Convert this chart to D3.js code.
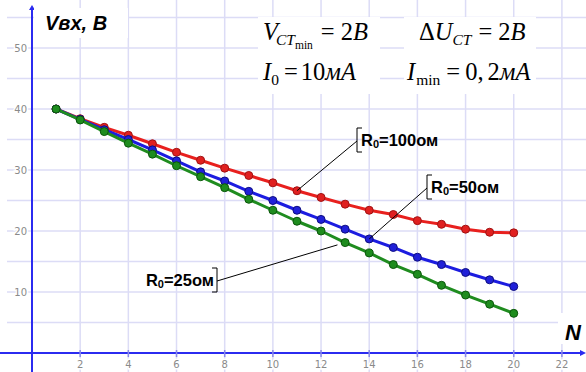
<!DOCTYPE html>
<html>
<head>
<meta charset="utf-8">
<script src="https://cdn.jsdelivr.net/npm/d3@7"></script>
<style>
  body { margin: 0; background: #fff; }
  svg { display: block; }
</style>
</head>
<body>
<svg width="586" height="372"></svg>
<script>
// N values and Vвх for the three R0 curves
var nValues = [1, 2, 3, 4, 5, 6, 7, 8, 9, 10, 11, 12, 13, 14, 15, 16, 17, 18, 19, 20];
var vR100 = [40.0, 38.4, 37.0, 35.7, 34.3, 32.9, 31.6, 30.3, 29.1, 27.9, 26.6, 25.5, 24.4, 23.4, 22.7, 21.7, 21.1, 20.3, 19.8, 19.7];
var vR50  = [40.0, 38.3, 36.6, 35.0, 33.3, 31.5, 29.7, 28.2, 26.5, 25.0, 23.4, 21.9, 20.3, 18.7, 17.3, 15.7, 14.5, 13.2, 12.0, 10.9];
var vR25  = [40.0, 38.2, 36.3, 34.4, 32.6, 30.7, 28.9, 27.1, 25.2, 23.4, 21.6, 20.0, 18.1, 16.4, 14.5, 12.9, 11.1, 9.5, 8.0, 6.5];

var xTicks = [2, 4, 6, 8, 10, 12, 14, 16, 18, 20, 22];
var yTicks = [10, 20, 30, 40, 50];
var yGrid = [5, 10, 15, 20, 25, 30, 35, 40, 45, 50, 55];

var series = [
  {name: "100", values: vR100, line: "#e8201e", fill: "#e02020", stroke: "#a01212", labelN: 11},
  {name: "50",  values: vR50,  line: "#1c1ce0", fill: "#2020d8", stroke: "#0e0e80", labelN: 14},
  {name: "25",  values: vR25,  line: "#1f8c1f", fill: "#1e8c1e", stroke: "#0b560b", labelN: 13}
];

var svg = d3.select("svg"),
  width = +svg.attr("width"),
  height = +svg.attr("height");

var x = d3.scaleLinear().domain([0, 23]).range([32, 586]);
var y = d3.scaleLinear().domain([0, 55]).range([353, 17.5]);

//###############################################
// grid
//###############################################
var gridColor = "#dcdcf6";

svg.append("g").selectAll("line")
  .data(xTicks)
  .enter().append("line")
    .attr("x1", d => x(d)).attr("x2", d => x(d))
    .attr("y1", 0).attr("y2", height)
    .attr("stroke", gridColor).attr("stroke-width", 1.5);

svg.append("g").selectAll("line")
  .data(yGrid)
  .enter().append("line")
    .attr("x1", 7).attr("x2", width)
    .attr("y1", d => y(d)).attr("y2", d => y(d))
    .attr("stroke", gridColor).attr("stroke-width", 1.5);

//###############################################
// axes
//###############################################
var axisColor = "#2b2bf0";

svg.append("line")
  .attr("x1", 0).attr("x2", width - 3)
  .attr("y1", y(0)).attr("y2", y(0))
  .attr("stroke", axisColor).attr("stroke-width", 2);
svg.append("path")
  .attr("d", "M" + width + "," + y(0) + " l-6,-3 l0,6 z")
  .attr("fill", axisColor);

svg.append("line")
  .attr("x1", x(0)).attr("x2", x(0))
  .attr("y1", 9).attr("y2", height)
  .attr("stroke", axisColor).attr("stroke-width", 2);
svg.append("path")
  .attr("d", "M" + x(0) + ",5 l-3,5 l6,0 z")
  .attr("fill", axisColor);

// tick marks on x axis
svg.append("g").selectAll("line")
  .data(xTicks)
  .enter().append("line")
    .attr("x1", d => x(d)).attr("x2", d => x(d))
    .attr("y1", y(0) - 3).attr("y2", y(0) + 4)
    .attr("stroke", "#8a8ae8").attr("stroke-width", 1.5);

svg.append("g").selectAll("text")
  .data(xTicks)
  .enter().append("text")
    .attr("x", d => x(d)).attr("y", 368)
    .attr("text-anchor", "middle")
    .attr("font-family", "DejaVu Sans, sans-serif")
    .attr("font-size", 10)
    .attr("fill", "#8a8a8a")
    .attr("stroke", "#fff").attr("stroke-width", 3).attr("paint-order", "stroke")
    .text(d => d);

svg.append("g").selectAll("text")
  .data(yTicks)
  .enter().append("text")
    .attr("x", 27).attr("y", d => y(d) + 3.5)
    .attr("text-anchor", "end")
    .attr("font-family", "DejaVu Sans, sans-serif")
    .attr("font-size", 10)
    .attr("fill", "#8a8a8a")
    .attr("stroke", "#fff").attr("stroke-width", 3).attr("paint-order", "stroke")
    .text(d => d);

//###############################################
// curves
//###############################################
var line = d3.line()
  .x((d, i) => x(nValues[i]))
  .y(d => y(d));

series.forEach(function(s) {
  svg.append("path")
    .datum(s.values)
    .attr("d", line)
    .attr("fill", "none")
    .attr("stroke", s.line)
    .attr("stroke-width", 3)
    .attr("stroke-linejoin", "round");

  svg.append("g").selectAll("circle")
    .data(s.values)
    .enter().append("circle")
      .attr("cx", (d, i) => x(nValues[i]))
      .attr("cy", d => y(d))
      .attr("r", 4)
      .attr("fill", s.fill)
      .attr("stroke", s.stroke)
      .attr("stroke-width", 1);
});

//###############################################
// callouts
//###############################################
function callout(s, bx, top, bottom, side, shorten) {
  var i = nValues.indexOf(s.labelN);
  var mid = (top + bottom) / 2 + 1;
  var px = x(nValues[i]), py = y(s.values[i]);
  var k = 1 - (shorten || 0);
  svg.append("line")
    .attr("x1", bx).attr("y1", mid)
    .attr("x2", bx + (px - bx) * k).attr("y2", mid + (py - mid) * k)
    .attr("stroke", "#000").attr("stroke-width", 1);
  var d = side === "left"
    ? "M" + (bx + 5) + "," + top + " H" + bx + " V" + bottom + " H" + (bx + 5)
    : "M" + (bx - 5) + "," + top + " H" + bx + " V" + bottom + " H" + (bx - 5);
  svg.append("path").attr("d", d)
    .attr("fill", "none").attr("stroke", "#000").attr("stroke-width", 1);

  var t = svg.append("text")
    .attr("y", bottom - 6)
    .attr("font-family", "Liberation Sans, Arial, sans-serif")
    .attr("font-weight", "bold")
    .attr("font-size", 16.5)
    .attr("fill", "#000");
  if (side === "left") t.attr("x", bx + 4);
  else t.attr("x", bx - 3).attr("text-anchor", "end");
  t.append("tspan").text("R");
  t.append("tspan").attr("font-size", 11).attr("dy", 2).text("0");
  t.append("tspan").attr("dy", -2).text("=" + s.name + "ом");
}

callout(series[0], 357, 128, 152, "left", 0);
callout(series[1], 427, 175, 199, "left", 0);
callout(series[2], 217, 268, 292, "right", 0.06);

//###############################################
// labels and formulas
//###############################################
svg.append("rect").attr("x", 34).attr("y", 8).attr("width", 94).attr("height", 30).attr("fill", "#fff");
svg.append("text")
  .attr("x", 45).attr("y", 30)
  .attr("font-family", "Liberation Sans, Arial, sans-serif")
  .attr("font-weight", "bold").attr("font-style", "italic")
  .attr("font-size", 20)
  .text("Vвх, В");

svg.append("rect").attr("x", 558).attr("y", 313).attr("width", 28).attr("height", 31).attr("fill", "#fff");
svg.append("text")
  .attr("x", 565).attr("y", 340)
  .attr("font-family", "Liberation Sans, Arial, sans-serif")
  .attr("font-weight", "bold").attr("font-style", "italic")
  .attr("font-size", 22)
  .text("N");

svg.append("rect").attr("x", 258).attr("y", 17).attr("width", 122).attr("height", 77).attr("fill", "#fff");
svg.append("rect").attr("x", 404).attr("y", 17).attr("width", 132).attr("height", 77).attr("fill", "#fff");

function formula(x0, y0, parts) {
  var t = svg.append("text")
    .attr("x", x0).attr("y", y0)
    .attr("font-family", "Liberation Serif, Times New Roman, serif")
    .attr("font-size", 24.5)
    .attr("fill", "#000");
  parts.forEach(function(p) {
    var ts = t.append("tspan").text(p.t);
    if (p.i) ts.attr("font-style", "italic");
    if (p.s) ts.attr("font-size", p.s);
    if (p.dy) ts.attr("dy", p.dy);
    if (p.dx) ts.attr("dx", p.dx);
  });
}

formula(263, 40, [
  {t: "V", i: true},
  {t: "CT", i: true, s: 15.5, dy: 5, dx: -2},
  {t: "min", s: 11.5, dy: 4},
  {t: "=", dy: -9, dx: 8},
  {t: "2", dx: 6},
  {t: "B", i: true}
]);
formula(263, 80, [
  {t: "I", i: true},
  {t: "0", s: 15.5, dy: 5},
  {t: "=", dy: -5, dx: 5},
  {t: "10", dx: 3},
  {t: "мA", i: true}
]);
formula(419, 40, [
  {t: "Δ"},
  {t: "U", i: true},
  {t: "CT", i: true, s: 15.5, dy: 5},
  {t: "=", dy: -5, dx: 7},
  {t: "2", dx: 6},
  {t: "B", i: true}
]);
formula(407, 80, [
  {t: "I", i: true},
  {t: "min", s: 15.5, dy: 5, dx: 1},
  {t: "=", dy: -5, dx: 6},
  {t: "0,", dx: 5},
  {t: "2", dx: 4},
  {t: "мA", i: true}
]);
</script>
</body>
</html>
